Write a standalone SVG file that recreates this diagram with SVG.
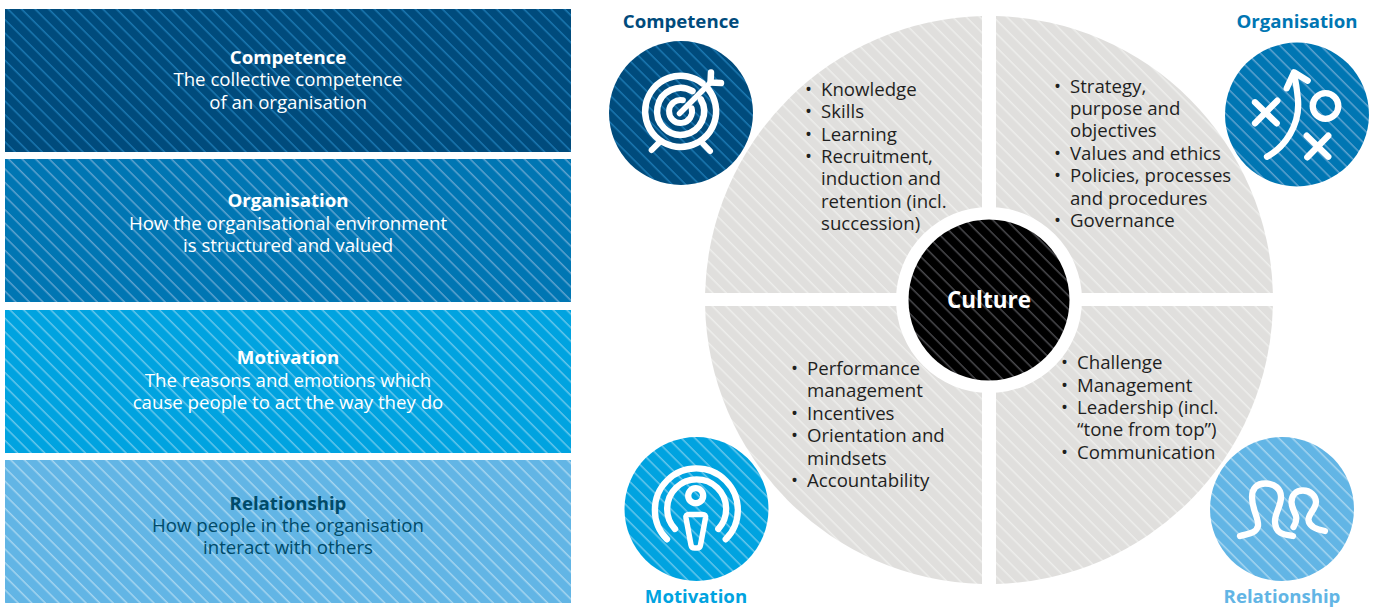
<svg xmlns="http://www.w3.org/2000/svg" width="1376" height="607" viewBox="0 0 1376 607">
<style>
text{font-family:"Open Sans","Noto Sans","Liberation Sans",sans-serif}
.t{font-size:18.65px;text-anchor:middle;fill:#fff}
.b{font-weight:700}
.h{font-size:18.65px;font-weight:700;text-anchor:middle}
.l{font-size:18.65px;fill:#1f1f1f}
.ic{fill:none;stroke:#fff;stroke-linecap:round;stroke-linejoin:round}
</style>
<defs>
<pattern id="p1" width="9.6" height="9.6" patternUnits="userSpaceOnUse" patternTransform="rotate(45)"><rect width="9.6" height="9.6" fill="#004b7c"/><rect width="9.6" height="1.5" fill="#1b78b2"/></pattern>
<pattern id="p2" width="9.6" height="9.6" patternUnits="userSpaceOnUse" patternTransform="rotate(45)"><rect width="9.6" height="9.6" fill="#0076b3"/><rect width="9.6" height="1.5" fill="#5fa3cf"/></pattern>
<pattern id="p3" width="9.6" height="9.6" patternUnits="userSpaceOnUse" patternTransform="rotate(45)"><rect width="9.6" height="9.6" fill="#00a3e0"/><rect width="9.6" height="1.5" fill="#66c6ec"/></pattern>
<pattern id="p4" width="9.6" height="9.6" patternUnits="userSpaceOnUse" patternTransform="rotate(45)"><rect width="9.6" height="9.6" fill="#62b5e5"/><rect width="9.6" height="1.5" fill="#a5d5f0"/></pattern>
<pattern id="pg" width="9.6" height="9.6" patternUnits="userSpaceOnUse" patternTransform="rotate(45)"><rect width="9.6" height="9.6" fill="#e0dfdd"/><rect width="9.6" height="1.5" fill="#eeeeec"/></pattern>
<pattern id="pk" width="9.6" height="9.6" patternUnits="userSpaceOnUse" patternTransform="rotate(45)"><rect width="9.6" height="9.6" fill="#000"/><rect width="9.6" height="1.5" fill="#4a4a4e"/></pattern>
</defs>

<g id="panel-competence"><rect x="5" y="9" width="566" height="143" fill="url(#p1)"/>
<text class="t" x="288" y="64"><tspan class="b">Competence</tspan><tspan x="288" y="86">The collective competence</tspan><tspan x="288" y="109">of an organisation</tspan></text></g>
<g id="panel-organisation"><rect x="5" y="159" width="566" height="143" fill="url(#p2)"/>
<text class="t" x="288" y="207"><tspan class="b">Organisation</tspan><tspan x="288" y="230">How the organisational environment</tspan><tspan x="288" y="252">is structured and valued</tspan></text></g>
<g id="panel-motivation"><rect x="5" y="310" width="566" height="143" fill="url(#p3)"/>
<text class="t" x="288" y="364"><tspan class="b">Motivation</tspan><tspan x="288" y="387">The reasons and emotions which</tspan><tspan x="288" y="409">cause people to act the way they do</tspan></text></g>
<g id="panel-relationship"><rect x="5" y="460" width="566" height="143" fill="url(#p4)"/>
<text class="t" x="288" y="510" style="fill:#004a68"><tspan class="b">Relationship</tspan><tspan x="288" y="532">How people in the organisation</tspan><tspan x="288" y="554">interact with others</tspan></text></g>

<g id="wheel">
<path d="M982 293V16.100A284 284 0 0 0 705.100 293Z" fill="url(#pg)"/>
<path d="M996 293V16.100A284 284 0 0 1 1272.900 293Z" fill="url(#pg)"/>
<path d="M982 306V583.900A284 284 0 0 1 705.100 306Z" fill="url(#pg)"/>
<path d="M996 306V583.900A284 284 0 0 0 1272.900 306Z" fill="url(#pg)"/>
</g>
<g id="culture"><circle cx="989" cy="300" r="93" fill="#fff"/><circle cx="989" cy="300" r="80.500" fill="url(#pk)"/>
<text x="989" y="308" font-size="22.5" font-weight="700" fill="#fff" text-anchor="middle">Culture</text></g>

<g id="list-competence"><text class="l"><tspan x="805" y="96">•</tspan><tspan x="821" y="96">Knowledge</tspan><tspan x="805" y="118">•</tspan><tspan x="821" y="118">Skills</tspan><tspan x="805" y="141">•</tspan><tspan x="821" y="141">Learning</tspan><tspan x="805" y="163">•</tspan><tspan x="821" y="163">Recruitment,</tspan><tspan x="821" y="185">induction and</tspan><tspan x="821" y="208">retention (incl.</tspan><tspan x="821" y="230">succession)</tspan></text></g>
<g id="list-organisation"><text class="l"><tspan x="1054" y="93">•</tspan><tspan x="1070" y="93">Strategy,</tspan><tspan x="1070" y="115">purpose and</tspan><tspan x="1070" y="137">objectives</tspan><tspan x="1054" y="160">•</tspan><tspan x="1070" y="160">Values and ethics</tspan><tspan x="1054" y="182">•</tspan><tspan x="1070" y="182">Policies, processes</tspan><tspan x="1070" y="205">and procedures</tspan><tspan x="1054" y="227">•</tspan><tspan x="1070" y="227">Governance</tspan></text></g>
<g id="list-motivation"><text class="l"><tspan x="791" y="375">•</tspan><tspan x="807" y="375">Performance</tspan><tspan x="807" y="397">management</tspan><tspan x="791" y="420">•</tspan><tspan x="807" y="420">Incentives</tspan><tspan x="791" y="442">•</tspan><tspan x="807" y="442">Orientation and</tspan><tspan x="807" y="465">mindsets</tspan><tspan x="791" y="487">•</tspan><tspan x="807" y="487">Accountability</tspan></text></g>
<g id="list-relationship"><text class="l"><tspan x="1061" y="369">•</tspan><tspan x="1077" y="369">Challenge</tspan><tspan x="1061" y="392">•</tspan><tspan x="1077" y="392">Management</tspan><tspan x="1061" y="414">•</tspan><tspan x="1077" y="414">Leadership (incl.</tspan><tspan x="1077" y="436">“tone from top”)</tspan><tspan x="1061" y="459">•</tspan><tspan x="1077" y="459">Communication</tspan></text></g>

<g id="badge-competence"><text class="h" x="681" y="28" fill="#004b7c">Competence</text><circle cx="681" cy="113" r="72" fill="url(#p1)"/>
<g class="ic" stroke-width="6.500"><path d="M702.500 83.400A35.500 35.500 0 1 0 708.600 89.500"/><path d="M692.500 91.100A23.500 23.500 0 1 0 700.900 99.500"/><path d="M682.900 100.200A11.500 11.500 0 1 0 691.600 108.200" stroke-width="6"/><path d="M679.500 113.500L711 82" stroke-width="5.500"/><path d="M711 72.500L710.500 82.500L721 83" stroke-width="6.500"/><path d="M651.700 150L658.300 143.300M703.300 144L710 151" stroke-width="6"/></g></g>

<g id="badge-organisation"><text class="h" x="1297" y="28" fill="#0076b3">Organisation</text><circle cx="1297" cy="114.500" r="72" fill="url(#p2)"/>
<g class="ic" stroke-width="6.300"><path d="M1267 156.700C1285 147 1300 125 1298 100C1297 90 1296 82 1294 74"/><path d="M1286.700 88.300L1294 72.300L1307.700 80.700"/><path d="M1255 102.300L1276.700 123.300M1277.300 100.700L1255 123.300M1306.700 135.700L1328.300 156.700M1328.300 135.700L1307.300 157.300"/><circle cx="1325.500" cy="106" r="12.800"/></g></g>

<g id="badge-motivation"><text class="h" x="696" y="603" fill="#00a3e0">Motivation</text><circle cx="696.500" cy="509" r="72" fill="url(#p3)"/>
<g class="ic" stroke-width="6.300"><path d="M667 539.300A41.500 41.500 0 1 1 725.700 539.300"/><path d="M675 529A29.500 29.500 0 1 1 718.300 529"/><circle cx="695.700" cy="495.700" r="7.500"/><path d="M689 514.500H702.500Q706 514.500 705.500 518L700.500 545Q700 548 697 548H694.500Q691.500 548 691 545L686 518Q685.500 514.500 689 514.500Z" stroke-width="5.500"/></g></g>

<g id="badge-relationship"><text class="h" x="1282" y="603" fill="#62b5e5">Relationship</text><circle cx="1282" cy="509" r="72" fill="url(#p4)"/>
<g class="ic" stroke-width="6.300"><path d="M1240 536C1248 533.500 1256 534 1258 526C1259 518 1252 510 1252 497C1252 488 1257 483.500 1265 483.500C1275 483.500 1281 489 1281 497C1281 507 1274.500 513 1275 522C1275.500 534 1284 534.500 1293 536"/><path d="M1293.500 527C1296 523 1297 520 1296 516C1294 511 1291.500 507 1291.500 502C1291.500 495 1296 490.500 1303 490.500C1310.500 490.500 1316 496 1316 502C1316 509 1308 514 1308.500 520C1309 527 1317 529.500 1325 531"/></g></g>
</svg>
